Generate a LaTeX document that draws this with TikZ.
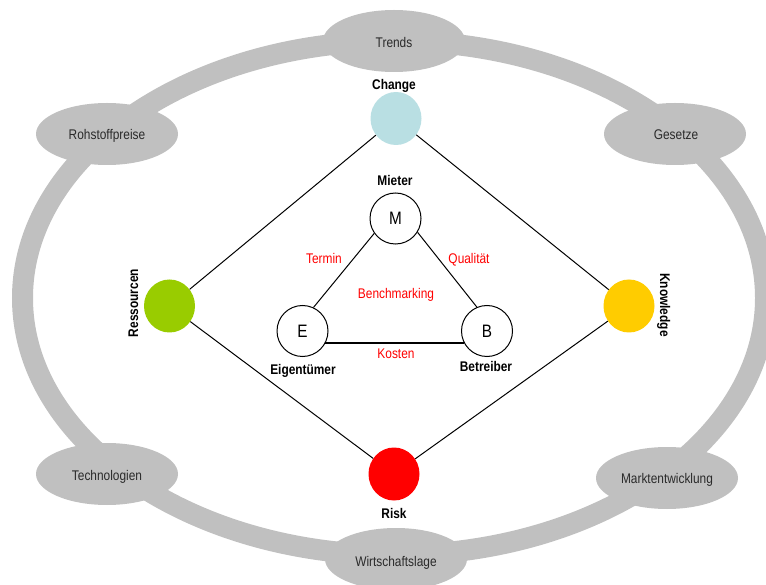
\documentclass[tikz,border=0pt]{standalone}
\usepackage{fontspec}
\setmainfont{Liberation Sans}[FakeStretch=0.85]
\usetikzlibrary{shapes.geometric}
\definecolor{ringgrey}{HTML}{C0C0C0}
\definecolor{factortext}{HTML}{2A2A2A}
\definecolor{changeblue}{HTML}{B9DFE3}
\definecolor{resgreen}{HTML}{99CC00}
\definecolor{knowyellow}{HTML}{FFCC00}
\definecolor{riskred}{HTML}{FF0000}
\tikzset{
  factor/.style={ellipse, fill=ringgrey, minimum width=142pt, minimum height=62pt,
    inner sep=0pt, text=factortext, font=\fontsize{14}{16}\selectfont},
  factortxt/.style={text=factortext, font=\fontsize{14}{16}\selectfont,
    inner sep=0pt, text height=10pt, text depth=0pt},
  dot/.style={ellipse, minimum width=51pt, minimum height=53pt, inner sep=0pt},
  party/.style={circle, draw=black, line width=1pt, fill=white, minimum size=51pt,
    inner sep=0pt, font=\fontsize{18}{20}\selectfont},
  boldlabel/.style={font=\bfseries\fontsize{14}{16}\selectfont, inner sep=0pt,
    text height=10pt, text depth=0pt},
  redlabel/.style={text=riskred, font=\fontsize{14}{16}\selectfont, inner sep=0pt,
    text height=10pt, text depth=0pt},
  link/.style={draw=black, line width=1pt}
}
\begin{document}
\begin{tikzpicture}[x=1pt, y=-1pt]
\useasboundingbox (0,0) rectangle (766,585);

% outer ring of external factors
\draw[ringgrey, line width=21pt] (394,298) ellipse [x radius=371.5pt, y radius=257pt];

\node[factor] (trends) at (394,41) {};
\node[factor] (rohstoff) at (107,134) {};
\node[factor] (gesetze) at (675,134) {};
\node[factor] (techno) at (107,474) {};
\node[factor] (markt) at (667,478) {};
\node[factor] (wirtschaft) at (396,559) {};

\node[factortxt] (trendstxt) at (394,43) {Trends};
\node[factortxt] (rohstofftxt) at (107,135) {Rohstoffpreise};
\node[factortxt] (gesetzetxt) at (676,135) {Gesetze};
\node[factortxt] (technotxt) at (107,475) {Technologien};
\node[factortxt] (markttxt) at (667,478) {Marktentwicklung};
\node[factortxt] (wirtschafttxt) at (396,561) {Wirtschaftslage};

% diamond of coloured drivers
\node[dot, fill=changeblue] (change) at (396,118.5) {};
\node[dot, fill=resgreen] (ress) at (169.5,306) {};
\node[dot, fill=knowyellow] (know) at (629,306) {};
\node[dot, fill=riskred] (risk) at (394,474) {};

\draw[link] (change) -- (ress);
\draw[link] (change) -- (know);
\draw[link] (ress) -- (risk);
\draw[link] (know) -- (risk);

\node[boldlabel] (changelbl) at (394,85) {Change};
\node[boldlabel] (risklbl) at (394,513) {Risk};
\node[boldlabel, rotate=90] (resslbl) at (133,303) {Ressourcen};
\node[boldlabel, rotate=-90] (knowlbl) at (665,305) {Knowledge};

% inner triangle of parties
\node[party] (m) at (395.5,218.5) {M};
\node[party] (e) at (302.5,331) {E};
\node[party] (b) at (487,331) {B};

\draw[link] (m.215) -- (e.65);
\draw[link] (m.328) -- (b.113);
\draw[draw=black, line width=1.6pt] (e.-28) -- (b.-152);

\node[boldlabel] (mlbl) at (395,181) {Mieter};
\node[boldlabel] (elbl) at (303,369) {Eigentümer};
\node[boldlabel] (blbl) at (486,367) {Betreiber};

\node[redlabel] (termin) at (324,259) {Termin};
\node[redlabel] (qual) at (469,259) {Qualität};
\node[redlabel] (bench) at (396,294) {Benchmarking};
\node[redlabel] (kosten) at (396,354) {Kosten};
\end{tikzpicture}
\end{document}
